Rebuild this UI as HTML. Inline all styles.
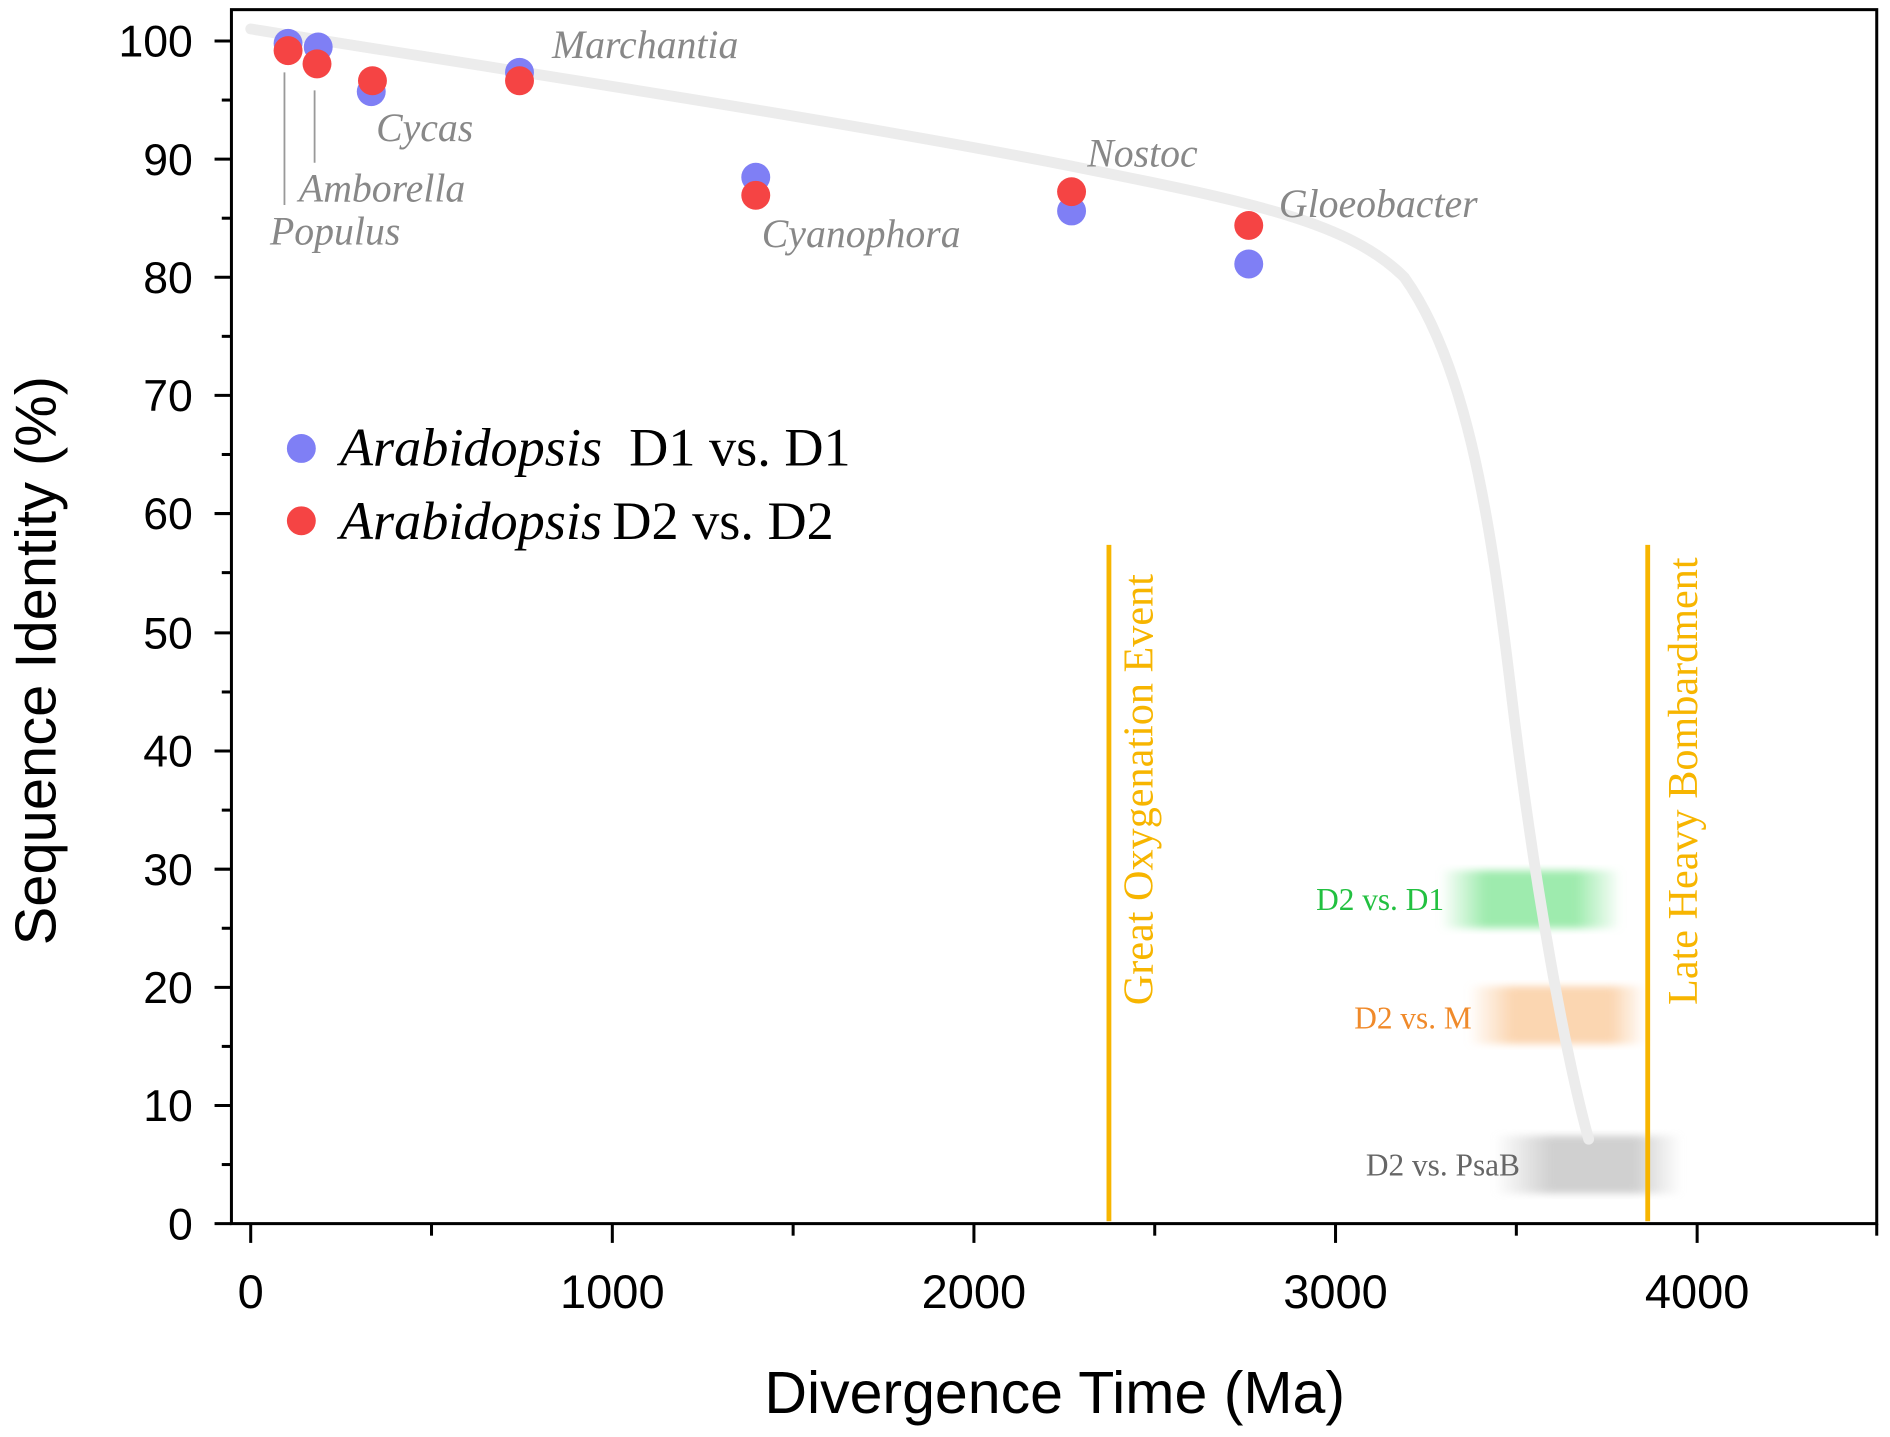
<!DOCTYPE html>
<html><head><style>html,body{margin:0;padding:0;background:#fff}svg{display:block}</style></head>
<body>
<svg width="1890" height="1437" viewBox="0 0 1568 1192" preserveAspectRatio="none" xmlns="http://www.w3.org/2000/svg">
<defs>
<linearGradient id="gG" x1="0" x2="1"><stop offset="0" stop-color="#8ee8a0" stop-opacity="0"/><stop offset="0.25" stop-color="#8ee8a0" stop-opacity="0.85"/><stop offset="0.75" stop-color="#8ee8a0" stop-opacity="0.85"/><stop offset="1" stop-color="#8ee8a0" stop-opacity="0"/></linearGradient>
<linearGradient id="gO" x1="0" x2="1"><stop offset="0" stop-color="#fbcfa4" stop-opacity="0"/><stop offset="0.25" stop-color="#fbcfa4" stop-opacity="0.85"/><stop offset="0.8" stop-color="#fbcfa4" stop-opacity="0.85"/><stop offset="1" stop-color="#fbcfa4" stop-opacity="0"/></linearGradient>
<linearGradient id="gK" x1="0" x2="1"><stop offset="0" stop-color="#c8c8c8" stop-opacity="0"/><stop offset="0.3" stop-color="#c8c8c8" stop-opacity="0.85"/><stop offset="0.75" stop-color="#c8c8c8" stop-opacity="0.85"/><stop offset="1" stop-color="#c8c8c8" stop-opacity="0"/></linearGradient>
<filter id="bl"><feGaussianBlur stdDeviation="3"/></filter>
</defs>
<rect x="1195" y="722" width="150" height="48" fill="url(#gG)" filter="url(#bl)"/>
<rect x="1218" y="818" width="148" height="48" fill="url(#gO)" filter="url(#bl)"/>
<rect x="1240" y="942" width="155" height="48" fill="url(#gK)" filter="url(#bl)"/>
<path d="M208,24 C400,55 700,100 900,140 C1040,168 1120,185 1165,230 C1215,300 1235,420 1252,560 C1273,740 1300,880 1318,945" fill="none" stroke="#ececec" stroke-width="9" stroke-linecap="round"/>
<rect x="192" y="8" width="1365" height="1007" fill="none" stroke="#000" stroke-width="2.5"/>
<g stroke="#000" stroke-width="2.5">
<line x1="178" y1="34" x2="192" y2="34"/><line x1="178" y1="132" x2="192" y2="132"/><line x1="178" y1="230" x2="192" y2="230"/><line x1="178" y1="328" x2="192" y2="328"/><line x1="178" y1="426" x2="192" y2="426"/><line x1="178" y1="525" x2="192" y2="525"/><line x1="178" y1="623" x2="192" y2="623"/><line x1="178" y1="721" x2="192" y2="721"/><line x1="178" y1="819" x2="192" y2="819"/><line x1="178" y1="917" x2="192" y2="917"/><line x1="178" y1="1015" x2="192" y2="1015"/>
<line x1="184" y1="83" x2="192" y2="83"/><line x1="184" y1="181" x2="192" y2="181"/><line x1="184" y1="279" x2="192" y2="279"/><line x1="184" y1="377" x2="192" y2="377"/><line x1="184" y1="475" x2="192" y2="475"/><line x1="184" y1="574" x2="192" y2="574"/><line x1="184" y1="672" x2="192" y2="672"/><line x1="184" y1="770" x2="192" y2="770"/><line x1="184" y1="868" x2="192" y2="868"/><line x1="184" y1="966" x2="192" y2="966"/>
<line x1="208" y1="1015" x2="208" y2="1031"/><line x1="508" y1="1015" x2="508" y2="1031"/><line x1="808" y1="1015" x2="808" y2="1031"/><line x1="1108" y1="1015" x2="1108" y2="1031"/><line x1="1408" y1="1015" x2="1408" y2="1031"/>
<line x1="358" y1="1015" x2="358" y2="1025"/><line x1="658" y1="1015" x2="658" y2="1025"/><line x1="958" y1="1015" x2="958" y2="1025"/><line x1="1258" y1="1015" x2="1258" y2="1025"/><line x1="1557" y1="1015" x2="1557" y2="1025"/>
</g>
<g font-family="Liberation Sans, sans-serif" font-size="37" fill="#000" text-anchor="end">
<text x="160" y="47">100</text><text x="160" y="145">90</text><text x="160" y="243">80</text><text x="160" y="341">70</text><text x="160" y="439">60</text><text x="160" y="538">50</text><text x="160" y="636">40</text><text x="160" y="734">30</text><text x="160" y="832">20</text><text x="160" y="930">10</text><text x="160" y="1028">0</text>
</g>
<g font-family="Liberation Sans, sans-serif" font-size="39" fill="#000" text-anchor="middle">
<text x="208" y="1085">0</text><text x="508" y="1085">1000</text><text x="808" y="1085">2000</text><text x="1108" y="1085">3000</text><text x="1408" y="1085">4000</text>
</g>
<text x="875" y="1172" font-family="Liberation Sans, sans-serif" font-size="49" text-anchor="middle">Divergence Time (Ma)</text>
<text transform="translate(46,548) rotate(-90)" font-family="Liberation Sans, sans-serif" font-size="48" text-anchor="middle">Sequence Identity (%)</text>
<line x1="920" y1="452" x2="920" y2="1013" stroke="#f7b500" stroke-width="4"/>
<line x1="1367" y1="452" x2="1367" y2="1013" stroke="#f7b500" stroke-width="4"/>
<g font-family="Liberation Serif, serif" font-size="35" fill="#f7b500" text-anchor="middle">
<text transform="translate(956,655) rotate(-90)">Great Oxygenation Event</text>
<text transform="translate(1408,648) rotate(-90)">Late Heavy Bombardment</text>
</g>
<g font-family="Liberation Serif, serif" font-size="26" text-anchor="end">
<text x="1198" y="755" fill="#22c040">D2 vs. D1</text>
<text x="1221" y="853" fill="#f08a2a">D2 vs. M</text>
<text x="1261" y="975" fill="#666">D2 vs. PsaB</text>
</g>
<line x1="236" y1="60" x2="236" y2="170" stroke="#999" stroke-width="1.5"/>
<line x1="261" y1="75" x2="261" y2="135" stroke="#999" stroke-width="1.5"/>
<g font-family="Liberation Serif, serif" font-style="italic" font-size="33" fill="#888">
<text x="458" y="48">Marchantia</text>
<text x="312" y="117">Cycas</text>
<text x="248" y="167">Amborella</text>
<text x="224" y="203">Populus</text>
<text x="632" y="205">Cyanophora</text>
<text x="902" y="138">Nostoc</text>
<text x="1061" y="180">Gloeobacter</text>
</g>
<g fill="#7f7ff5">
<circle cx="239" cy="36" r="12"/><circle cx="264" cy="39" r="12"/><circle cx="308" cy="76" r="12"/><circle cx="431" cy="60" r="12"/><circle cx="627" cy="147" r="12"/><circle cx="889" cy="175" r="12"/><circle cx="1036" cy="219" r="12"/>
<circle cx="250" cy="372" r="12"/>
</g>
<g fill="#f54444">
<circle cx="239" cy="42" r="12"/><circle cx="263" cy="53" r="12"/><circle cx="309" cy="67" r="12"/><circle cx="431" cy="67" r="12"/><circle cx="627" cy="162" r="12"/><circle cx="889" cy="159" r="12"/><circle cx="1036" cy="187" r="12"/>
<circle cx="250" cy="432" r="12"/>
</g>
<g font-family="Liberation Serif, serif" font-size="45" fill="#000">
<text x="282" y="386"><tspan font-style="italic">Arabidopsis</tspan><tspan x="522">D1 vs. D1</tspan></text>
<text x="282" y="447"><tspan font-style="italic">Arabidopsis</tspan><tspan x="508">D2 vs. D2</tspan></text>
</g>
</svg>
</body></html>
